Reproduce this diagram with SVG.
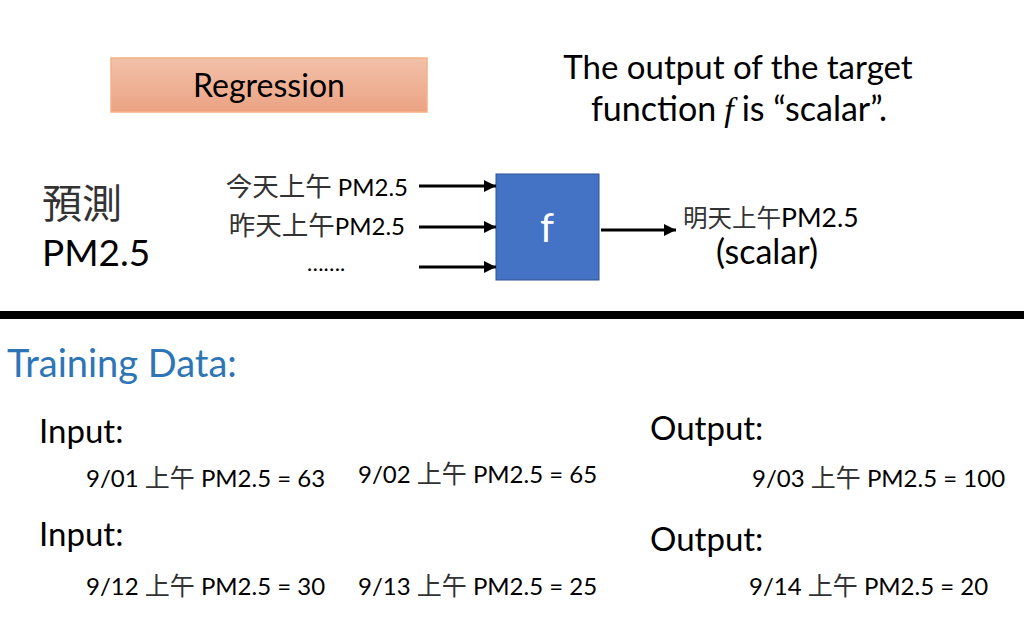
<svg xmlns="http://www.w3.org/2000/svg" width="1024" height="617" viewBox="0 0 1024 617">
  <defs>
    <linearGradient id="peach" x1="0" y1="0" x2="0" y2="1">
      <stop offset="0" stop-color="#F2C1A9"/>
      <stop offset="1" stop-color="#EBA283"/>
    </linearGradient>
    <marker id="arrow" viewBox="0 0 10 10" refX="10" refY="5" markerWidth="4" markerHeight="4" orient="auto" markerUnits="strokeWidth">
      <path d="M0,0 L10,5 L0,10 z" fill="#000"/>
    </marker>
  </defs>
  <style>
    text { font-family: Lato, "Noto Sans CJK TC", sans-serif; fill: #000; }
    .cjk { font-family: "Noto Sans CJK TC", sans-serif; fill: #333; }
    .conn { stroke: #000; stroke-width: 3; fill: none; marker-end: url(#arrow); }
    .data { font-size: 24px; }
    .data .cjk { font-size: 25px; }
    .head { font-size: 33px; }
  </style>
  <rect width="1024" height="617" fill="#fff"/>

  <g id="regression">
    <rect x="111" y="58" width="316" height="54" fill="url(#peach)" stroke="#F4B183" stroke-width="1.5"/>
    <text x="269" y="97" font-size="32" text-anchor="middle">Regression</text>
  </g>

  <g id="title">
    <text x="738" y="79" font-size="33" text-anchor="middle">The output of the target</text>
    <text x="739" y="121" font-size="34" text-anchor="middle">function<tspan dx="8" font-family="'Liberation Serif', serif" font-style="italic">f</tspan><tspan dx="8">is “scalar”.</tspan></text>
  </g>

  <g id="predict">
    <text x="42" y="218" font-size="40" class="cjk">預測</text>
    <text x="42" y="266" font-size="37">PM2.5</text>
  </g>

  <g id="inputs">
    <text x="408" y="196" font-size="24" text-anchor="end"><tspan class="cjk" font-size="26.5">今天上午</tspan> PM2.5</text>
    <text x="405" y="235" font-size="24" text-anchor="end"><tspan class="cjk" font-size="26.5">昨天上午</tspan>PM2.5</text>
    <text x="326" y="271" font-size="22" text-anchor="middle">…….</text>
  </g>

  <g id="f-box">
    <rect x="496" y="174" width="103" height="106" fill="#4472C4" stroke="#2F528F" stroke-width="1"/>
    <text x="547" y="242" font-size="40" text-anchor="middle" style="fill:#fff">f</text>
  </g>

  <g id="output">
    <text x="683" y="227" font-size="26.5"><tspan class="cjk" font-size="24.5">明天上午</tspan>PM2.5</text>
    <text x="767" y="264" font-size="34" text-anchor="middle">(scalar)</text>
  </g>

  <g id="connectors">
    <line class="conn" x1="419" y1="186" x2="496" y2="186"/>
    <line class="conn" x1="419" y1="227" x2="496" y2="227"/>
    <line class="conn" x1="419" y1="267" x2="496" y2="267"/>
    <line class="conn" x1="601" y1="230" x2="676" y2="230"/>
  </g>

  <rect x="0" y="311" width="1024" height="8" fill="#000"/>

  <g id="training">
    <text x="7" y="377" font-size="38" style="fill:#2E75B6">Training Data:</text>
    <text x="39" y="443" class="head">Input:</text>
    <text x="86" y="487" class="data">9/01 <tspan class="cjk">上午</tspan> PM2.5 = 63</text>
    <text x="358" y="483" class="data">9/02 <tspan class="cjk">上午</tspan> PM2.5 = 65</text>
    <text x="39" y="546" class="head">Input:</text>
    <text x="86" y="595" class="data">9/12 <tspan class="cjk">上午</tspan> PM2.5 = 30</text>
    <text x="358" y="595" class="data">9/13 <tspan class="cjk">上午</tspan> PM2.5 = 25</text>
    <text x="650" y="440" class="head">Output:</text>
    <text x="752" y="487" class="data">9/03 <tspan class="cjk">上午</tspan> PM2.5 = 100</text>
    <text x="650" y="551" class="head">Output:</text>
    <text x="749" y="595" class="data">9/14 <tspan class="cjk">上午</tspan> PM2.5 = 20</text>
  </g>
</svg>
